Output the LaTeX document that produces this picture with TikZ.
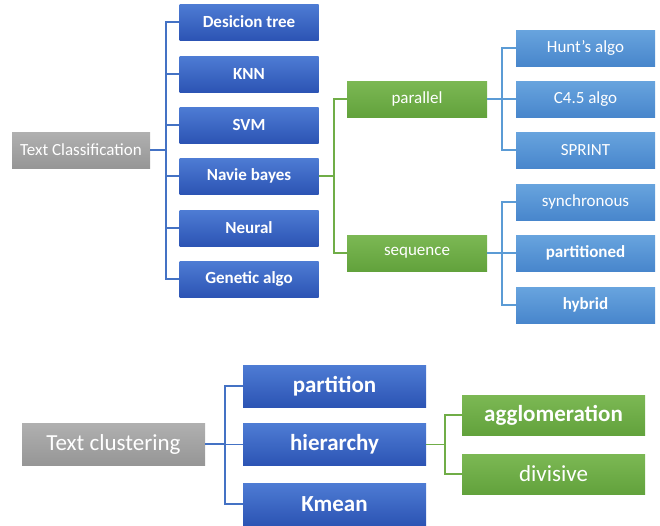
\documentclass[tikz,border=0pt]{standalone}
\usepackage{fontspec}
\setmainfont{Carlito}
\definecolor{dkbluetop}{RGB}{78,124,212}
\definecolor{dkbluebot}{RGB}{44,84,180}
\definecolor{ltbluetop}{RGB}{104,164,222}
\definecolor{ltbluebot}{RGB}{72,134,204}
\definecolor{greentop}{RGB}{124,184,84}
\definecolor{greenbot}{RGB}{98,162,60}
\definecolor{graytop}{RGB}{176,176,176}
\definecolor{graybot}{RGB}{150,150,150}
\definecolor{dkblueline}{RGB}{68,114,196}
\definecolor{ltblueline}{RGB}{91,155,213}
\definecolor{greenline}{RGB}{112,173,71}
\begin{document}
\begin{tikzpicture}[x=1pt,y=-1pt,
    box/.style={minimum width=139pt,minimum height=36pt,inner sep=0pt,text=white,
        font=\fontsize{17}{19}\selectfont},
    boldbox/.style={box,font=\fontsize{17}{19}\bfseries},
    bigbox/.style={box,minimum width=183pt,minimum height=42pt,
        font=\fontsize{23}{25}\selectfont},
    boldbigbox/.style={bigbox,font=\fontsize{23}{25}\bfseries},
    graybox/.style={top color=graytop,bottom color=graybot},
    dkbox/.style={top color=dkbluetop,bottom color=dkbluebot},
    ltbox/.style={top color=ltbluetop,bottom color=ltbluebot},
    grbox/.style={top color=greentop,bottom color=greenbot},
    dkline/.style={draw=dkblueline,line width=1.2pt},
    ltline/.style={draw=ltblueline,line width=1.2pt},
    grline/.style={draw=greenline,line width=1.2pt}]
    \useasboundingbox (0,0) rectangle (660,525);

    % text classification
    \node[box,graybox,minimum width=138pt] (tc) at (81,150) {Text Classification};
    \node[boldbox,dkbox] (dt) at (249,22) {Desicion tree};
    \node[boldbox,dkbox] (knn) at (249,74) {KNN};
    \node[boldbox,dkbox] (svm) at (249,125) {SVM};
    \node[boldbox,dkbox] (nb) at (249,176) {Navie bayes};
    \node[boldbox,dkbox] (neural) at (249,228) {Neural};
    \node[boldbox,dkbox] (ga) at (249,279) {Genetic algo};

    \node[box,grbox,minimum width=140pt] (par) at (417,99) {parallel};
    \node[box,grbox,minimum width=140pt] (seq) at (417,253) {sequence};

    \node[box,ltbox] (hunt) at (585.5,48) {Hunt's algo};
    \node[box,ltbox] (cfour) at (585.5,99) {C4.5 algo};
    \node[box,ltbox] (sprint) at (585.5,150) {SPRINT};
    \node[box,ltbox] (sync) at (585.5,202) {synchronous};
    \node[boldbox,ltbox] (parted) at (585.5,253) {partitioned};
    \node[boldbox,ltbox] (hyb) at (585.5,305) {hybrid};

    \coordinate (tcfork) at (166,150);
    \coordinate (nbfork) at (334,176);
    \coordinate (parfork) at (502,99);
    \coordinate (seqfork) at (502,253);

    \draw[dkline] (tc) -- (tcfork);
    \foreach \n in {dt,knn,svm,nb,neural,ga}
        \draw[dkline] (tcfork) |- (\n.west);
    \draw[grline] (nb) -- (nbfork);
    \foreach \n in {par,seq}
        \draw[grline] (nbfork) |- (\n.west);
    \draw[ltline] (par) -- (parfork);
    \foreach \n in {hunt,cfour,sprint}
        \draw[ltline] (parfork) |- (\n.west);
    \draw[ltline] (seq) -- (seqfork);
    \foreach \n in {sync,parted,hyb}
        \draw[ltline] (seqfork) |- (\n.west);

    % text clustering
    \node[bigbox,graybox] (tcl) at (113.5,444) {Text clustering};
    \node[boldbigbox,dkbox] (part) at (334.5,386) {partition};
    \node[boldbigbox,dkbox] (hier) at (334.5,444.5) {hierarchy};
    \node[boldbigbox,dkbox] (km) at (334.5,504) {Kmean};
    \node[boldbigbox,grbox,minimum height=40pt] (agg) at (553.5,415) {agglomeration};
    \node[bigbox,grbox,minimum height=40pt] (div) at (553.5,474) {divisive};

    \coordinate (tclfork) at (225,444);
    \coordinate (hierfork) at (445,444.5);

    \draw[dkline] (tcl) -- (tclfork);
    \foreach \n in {part,hier,km}
        \draw[dkline] (tclfork) |- (\n.west);
    \draw[grline] (hier) -- (hierfork);
    \foreach \n in {agg,div}
        \draw[grline] (hierfork) |- (\n.west);
\end{tikzpicture}
\end{document}
